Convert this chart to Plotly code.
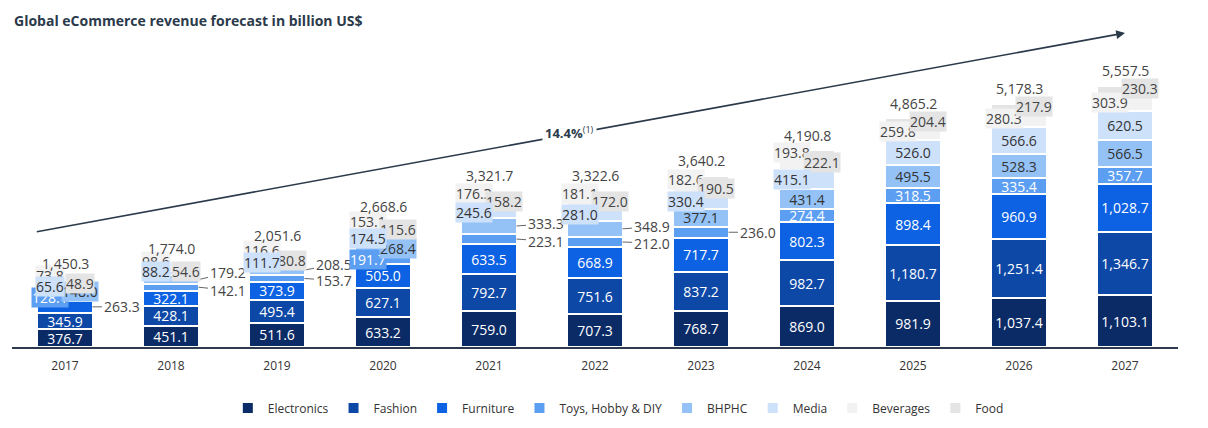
import plotly.graph_objects as go

years = ['2017', '2018', '2019', '2020', '2021', '2022', '2023', '2024', '2025', '2026', '2027']
series_names = ['Electronics', 'Fashion', 'Furniture', 'Toys, Hobby & DIY', 'BHPHC', 'Media', 'Beverages', 'Food']

electronics = [376.7, 451.1, 511.6, 633.2, 759.0, 707.3, 768.7, 869.0, 981.9, 1037.4, 1103.1]
fashion = [345.9, 428.1, 495.4, 627.1, 792.7, 751.6, 837.2, 982.7, 1180.7, 1251.4, 1346.7]
furniture = [263.3, 322.1, 373.9, 505.0, 633.5, 668.9, 717.7, 802.3, 898.4, 960.9, 1028.7]
toys = [128.1, 142.1, 153.7, 191.7, 223.1, 212.0, 236.0, 274.4, 318.5, 335.4, 357.7]
bhphc = [148.0, 179.2, 208.5, 268.4, 333.3, 348.9, 377.1, 431.4, 495.5, 528.3, 566.5]
media = [65.6, 88.2, 111.7, 174.5, 245.6, 281.0, 330.4, 415.1, 526.0, 566.6, 620.5]
beverages = [73.8, 98.6, 116.6, 153.1, 176.3, 181.1, 182.6, 193.8, 259.8, 280.3, 303.9]
food = [48.9, 54.6, 80.8, 115.6, 158.2, 172.0, 190.5, 222.1, 204.4, 217.9, 230.3]
totals = [1450.3, 1774.0, 2051.6, 2668.6, 3321.7, 3322.6, 3640.2, 4190.8, 4865.2, 5178.3, 5557.5]
cagr_label = '14.4%'

# ---- styling ----
colors = ['#0b2b66', '#0d48a6', '#0c62e2', '#5b9ef2', '#94c2f7', '#cde1fb', '#f2f2f2', '#e4e4e4']
text_colors = ['white', 'white', 'white', 'white', '#333333', '#333333', '#333333', '#333333']
box_text_colors = ['white', 'white', 'white', 'white', '#333333', '#333333', '#444444', '#444444']
# label placement: i = inside, c = callout right, L = left box, R = right box
placement = [
    ['i'] * 11,
    ['i'] * 11,
    ['c'] + ['i'] * 10,
    ['L', 'c', 'c', 'L', 'c', 'c', 'c', 'i', 'i', 'i', 'i'],
    ['R', 'c', 'c', 'R', 'c', 'c', 'i', 'i', 'i', 'i', 'i'],
    ['L'] * 8 + ['i'] * 3,
    ['L'] * 11,
    ['R'] * 11,
]
label_yshift = [
    [0] * 11, [0] * 11, [0] * 11, [0] * 11, [0] * 11,
    [0, 2, 0, 0, 0, 0, 0, 0, 0, 0, 0],
    [7, 7, 7, 9, 9, 10, 10, 13, 3, 2, 1],
    [-4, -6, -8, -5, -7, -7, -8, -7, 2, 2, 3],
]
callout_ay = [
    [0] * 11, [0] * 11,
    [0] * 11,
    [0, 3, 2, 0, 2, 1, 0, 0, 0, 0, 0],
    [0, -7, -5, 0, -2, -2, 0, 0, 0, 0, 0],
    [0] * 11, [0] * 11, [0] * 11,
]

values = [electronics, fashion, furniture, toys, bhphc, media, beverages, food]
FONT = 'Open Sans, Noto Sans, sans-serif'
LBL = 14
HALF_BAR = 27.5
SIDE = 15

fig = go.Figure()
for s, (name, vals) in enumerate(zip(series_names, values)):
    txt = [f'{v:,.1f}' if placement[s][k] == 'i' else '' for k, v in enumerate(vals)]
    fig.add_trace(go.Bar(
        x=years, y=vals, name=name,
        marker=dict(color=colors[s], line=dict(color='white', width=2)),
        text=txt, textposition='inside', insidetextanchor='middle', textangle=0,
        textfont=dict(family=FONT, size=LBL, color=text_colors[s]),
        hoverinfo='x+y+name',
    ))

annotations = []
order = [3, 4, 2, 6, 7, 5]
for k, yr in enumerate(years):
    cum = [0.0]
    for vals in values:
        cum.append(cum[-1] + vals[k])
    for s in order:
        p = placement[s][k]
        if p == 'i':
            continue
        mid = (cum[s] + cum[s + 1]) / 2
        t = f'{values[s][k]:,.1f}'
        if p == 'c':
            annotations.append(dict(
                x=k, y=mid, xref='x', yref='y', text=t, showarrow=True,
                arrowhead=0, arrowwidth=1, arrowcolor='#666666',
                ax=29, ay=callout_ay[s][k], xshift=HALF_BAR,
                font=dict(family=FONT, size=LBL, color='#444444')))
        else:
            annotations.append(dict(
                x=k, y=mid, xref='x', yref='y', text=t, showarrow=False,
                xshift=-SIDE if p == 'L' else SIDE, yshift=label_yshift[s][k],
                bgcolor=colors[s], borderpad=0,
                font=dict(family=FONT, size=LBL, color=box_text_colors[s])))
    annotations.append(dict(
        x=k, y=totals[k], xref='x', yref='y', text=f'{totals[k]:,.1f}',
        showarrow=False, yshift=15,
        font=dict(family=FONT, size=LBL, color='#444444')))

# growth arrow
annotations.append(dict(
    x=10, y=6681, xref='x', yref='y', ax=-0.28, ay=2447, axref='x', ayref='y',
    text='', showarrow=True, arrowhead=2, arrowsize=1.1, arrowwidth=1.6,
    arrowcolor='#2b3a4b'))
annotations.append(dict(
    x=4.76, y=4574, xref='x', yref='y', showarrow=False,
    text=f'<b>{cagr_label}</b><sup>(1)</sup>', bgcolor='white', borderpad=2,
    font=dict(family=FONT, size=13, color='#2b3a4b')))
# title
annotations.append(dict(
    x=0, y=1, xref='paper', yref='paper', xanchor='left', yanchor='middle',
    showarrow=False, text='<b>Global eCommerce revenue forecast in billion US$</b>',
    font=dict(family=FONT, size=14, color='#2b3a4b')))

fig.update_layout(
    barmode='stack', bargap=0.48,
    width=1200, height=420,
    margin=dict(l=4, r=30, t=12, b=81),
    paper_bgcolor='white', plot_bgcolor='white',
    xaxis=dict(type='category', range=[-0.5, 10.5], autorange=False,
               showline=True, linecolor='#2e3b4e', linewidth=2,
               ticks='', showgrid=False, ticklabelstandoff=7,
               tickfont=dict(family=FONT, size=12, color='#333333')),
    yaxis=dict(range=[0, 6957], autorange=False, visible=False, showgrid=False, zeroline=False),
    legend=dict(orientation='h', x=0.52, xanchor='center', y=-0.1865, yanchor='middle',
                traceorder='normal', itemwidth=30,
                font=dict(family=FONT, size=12, color='#333333')),
    uniformtext=dict(minsize=LBL, mode='show'),
    annotations=annotations,
    showlegend=True,
)

fig.write_html('out.html')
